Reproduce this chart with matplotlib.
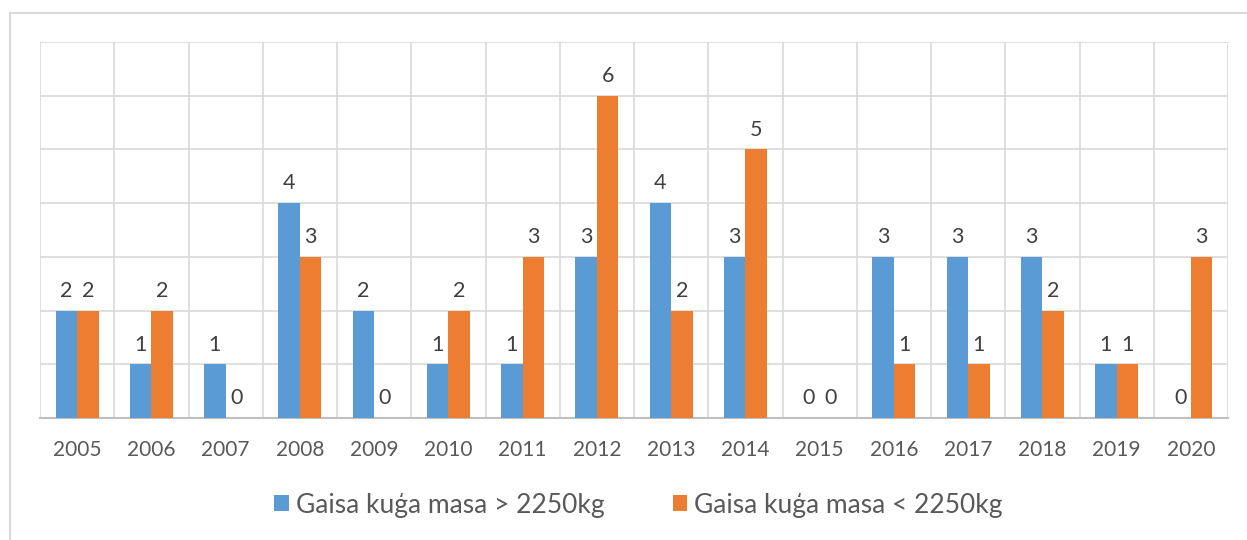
"""Grouped bar chart: Gaisa kuģa masa by year."""
import numpy as np
from matplotlib import pyplot as plt
from matplotlib import rc
from matplotlib.lines import Line2D

rc('font', family=['Lato', 'DejaVu Sans'])

years = ['2005', '2006', '2007', '2008', '2009', '2010', '2011', '2012',
         '2013', '2014', '2015', '2016', '2017', '2018', '2019', '2020']
heavy = [2, 1, 1, 4, 2, 1, 1, 3, 4, 3, 0, 3, 3, 3, 1, 0]
light = [2, 2, 0, 3, 0, 2, 3, 6, 2, 5, 0, 1, 1, 2, 1, 3]
labels = ['Gaisa kuģa masa > 2250kg', 'Gaisa kuģa masa < 2250kg']
colors = ['#5B9BD5', '#ED7D31']

W, H = 1247, 540
fig = plt.figure(figsize=(W / 100, H / 100), dpi=100)

# outer chart frame
fig.add_artist(Line2D([10 / W, 1], [1 - 13 / H, 1 - 13 / H],
                      transform=fig.transFigure, color='#D9D9D9', lw=1.5))
fig.add_artist(Line2D([10 / W, 10 / W], [0, 1 - 13 / H],
                      transform=fig.transFigure, color='#D9D9D9', lw=1.5))

ax = fig.add_axes([40 / W, (H - 418) / H, (1228 - 40) / W, (418 - 42) / H])

x = np.arange(len(years))
bw = 0.29
for i, (vals, col) in enumerate(zip([heavy, light], colors)):
    pos = x + (i - 0.5) * bw
    ax.bar(pos, vals, width=bw, color=col, label=labels[i], zorder=3)
    for px, v in zip(pos, vals):
        ax.annotate(str(v), (px, v), xytext=(0, 7), textcoords='offset points',
                    ha='center', va='bottom', fontsize=15.5, color='#404040')

ax.set_xlim(-0.5, len(years) - 0.5)
ax.set_ylim(0, 7)
ax.set_yticks(np.arange(0, 8))
ax.set_yticklabels([])
ax.set_xticks(x)
ax.set_xticklabels(years, fontsize=15, color='#595959')
ax.set_xticks(np.arange(-0.5, len(years)), minor=True)
ax.tick_params(axis='both', which='both', length=0)
ax.tick_params(axis='x', pad=16)
ax.grid(axis='y', which='major', color='#D9D9D9', lw=1.2, zorder=0)
ax.grid(axis='x', which='minor', color='#D9D9D9', lw=1.2, zorder=0)
for s in ['top', 'left', 'right']:
    ax.spines[s].set_visible(False)
ax.spines['bottom'].set_color('#BFBFBF')
ax.spines['bottom'].set_linewidth(1.5)

fig.legend(loc='center', bbox_to_anchor=(0.512, 1 - 505 / H), ncol=2,
           frameon=False, fontsize=19, handlelength=0.55, handleheight=0.55,
           handletextpad=0.25, columnspacing=2.6, labelcolor='#595959')

plt.savefig('out.png', dpi=100)
